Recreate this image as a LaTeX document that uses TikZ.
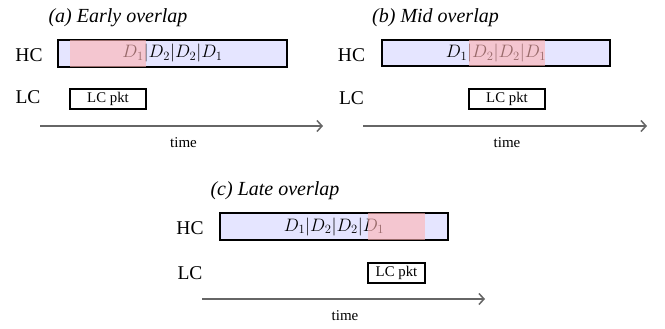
\RequirePackage{fix-cm}
\documentclass[tikz,border=0pt]{standalone}
\usepackage{fontspec}
\setmainfont{Liberation Serif}
\usetikzlibrary{arrows.meta}
\tikzset{
  lbl/.style={inner sep=0pt, font=\fontsize{19.5}{22}\selectfont},
  ttl/.style={inner sep=0pt, anchor=base, font=\fontsize{20}{24}\selectfont\itshape},
  hcbox/.style={draw=black, line width=2pt, fill=blue!10, inner sep=0pt,
    font=\fontsize{18}{22}\selectfont},
  pinkov/.style={fill=red!30, fill opacity=0.6, draw=none, inner sep=0pt},
  lcbox/.style={draw=black, line width=2pt, fill=white, inner sep=0pt,
    font=\fontsize{14.8}{17}\selectfont},
  timeaxis/.style={draw=black!60, line width=1.5pt, -{Straight Barb[length=5pt,width=11pt]}},
  timelbl/.style={inner sep=0pt, font=\fontsize{15}{17}\selectfont},
}
\begin{document}
\begin{tikzpicture}[x=1pt,y=-1pt]
\useasboundingbox (0,0) rectangle (665,329);
% ---------- (a) ----------
\node[ttl] (ta) at (118,23) {(a) Early overlap};
\node[lbl] (hca) at (29,55) {HC};
\node[lbl] (lca) at (28,97) {LC};
\node[hcbox, minimum width=229pt, minimum height=27pt] (boxa) at (172.5,53.5) {$D_1|D_2|D_2|D_1$};
\node[pinkov, minimum width=76pt, minimum height=27pt] (ova) at (108,53.5) {};
\node[lcbox, minimum width=76pt, minimum height=20pt] (pkta) at (108,99) {LC pkt};
\coordinate (sa) at (40,126);
\coordinate (ea) at (323,126);
\draw[timeaxis] (sa) -- (ea);
\node[timelbl] (tma) at (183.5,143) {time};
% ---------- (b) ----------
\node[ttl] (tb) at (435.5,23) {(b) Mid overlap};
\node[lbl] (hcb) at (351.5,55) {HC};
\node[lbl] (lcb) at (351.5,98) {LC};
\node[hcbox, minimum width=228pt, minimum height=26pt] (boxb) at (496,53) {$D_1|D_2|D_2|D_1$};
\node[pinkov, minimum width=76pt, minimum height=26pt] (ovb) at (507,53) {};
\node[lcbox, minimum width=76pt, minimum height=20pt] (pktb) at (507,99) {LC pkt};
\coordinate (sb) at (363,126);
\coordinate (eb) at (647,126);
\draw[timeaxis] (sb) -- (eb);
\node[timelbl] (tmb) at (507,143) {time};
% ---------- (c) ----------
\node[ttl] (tc) at (275,196) {(c) Late overlap};
\node[lbl] (hcc) at (190,228) {HC};
\node[lbl] (lcc) at (190,273) {LC};
\node[hcbox, minimum width=228pt, minimum height=27pt] (boxc) at (334,226.5) {$D_1|D_2|D_2|D_1$};
\node[pinkov, minimum width=57pt, minimum height=27pt] (ovc) at (396.5,226.5) {};
\node[lcbox, minimum width=57pt, minimum height=20pt] (pktc) at (396.5,273) {LC pkt};
\coordinate (sc) at (202,299);
\coordinate (ec) at (485,299);
\draw[timeaxis] (sc) -- (ec);
\node[timelbl] (tmc) at (345,316) {time};
\end{tikzpicture}
\end{document}
